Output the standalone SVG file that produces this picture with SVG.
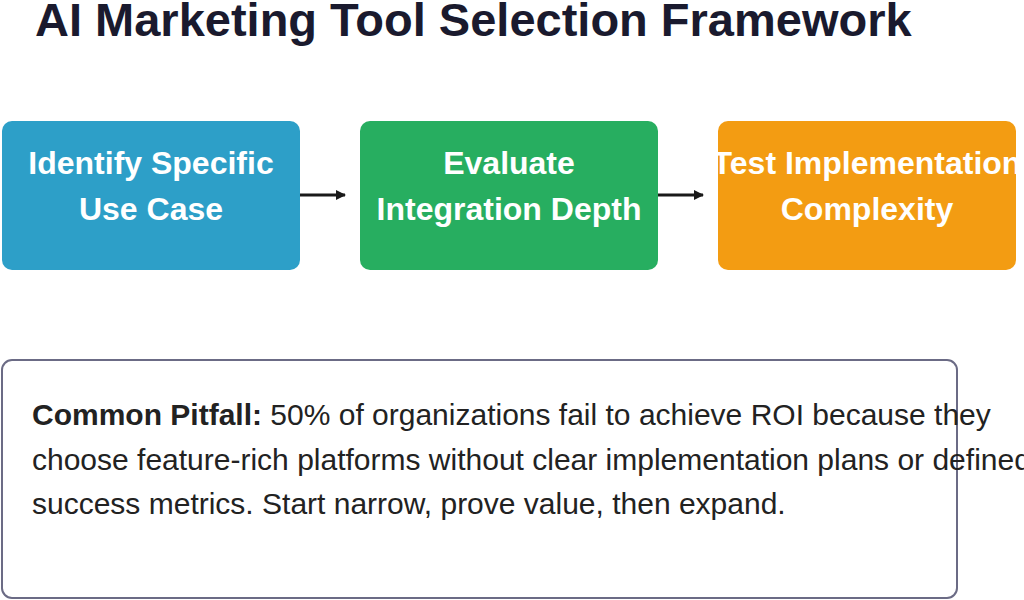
<svg xmlns="http://www.w3.org/2000/svg" width="1024" height="600" viewBox="0 0 1024 600">
<style>
.t{font-family:"Liberation Sans",Arial,sans-serif;font-weight:bold;font-size:32px;fill:#fff;text-anchor:middle}
.b{font-family:"Liberation Sans",Arial,sans-serif;font-size:30px;fill:#222}
</style>
<defs><marker id="ah" markerWidth="10" markerHeight="10" refX="9" refY="5" orient="auto" markerUnits="userSpaceOnUse"><path d="M0,0L10,5L0,10z" fill="#1a1a1a"/></marker></defs>
<rect width="1024" height="600" fill="#fff"/>
<text x="35" y="36" font-family="Liberation Sans,Arial,sans-serif" font-weight="bold" font-size="47" fill="#1a1a2e">AI Marketing Tool Selection Framework</text>
<g id="n1"><rect x="2" y="121" width="298" height="149" rx="10" fill="#2d9fc8"/><text class="t" x="151" y="174">Identify Specific</text><text class="t" x="151" y="220">Use Case</text></g>
<g id="n2"><rect x="360" y="121" width="298" height="149" rx="10" fill="#27ae60"/><text class="t" x="509" y="174">Evaluate</text><text class="t" x="509" y="220">Integration Depth</text></g>
<g id="n3"><rect x="718" y="121" width="298" height="149" rx="10" fill="#f39c12"/><text class="t" x="867" y="174">Test Implementation</text><text class="t" x="867" y="220">Complexity</text></g>
<g id="connectors" stroke="#1a1a1a" stroke-width="3"><line x1="300" y1="195" x2="345" y2="195" marker-end="url(#ah)"/><line x1="658" y1="195" x2="703" y2="195" marker-end="url(#ah)"/></g>
<g id="note"><rect x="2" y="360" width="955" height="238" rx="10" fill="#fff" stroke="#6b6b85" stroke-width="2"/>
<text class="b" x="32" y="425"><tspan font-weight="bold">Common Pitfall:</tspan> 50% of organizations fail to achieve ROI because they</text>
<text class="b" x="32" y="470">choose feature-rich platforms without clear implementation plans or defined</text>
<text class="b" x="32" y="514">success metrics. Start narrow, prove value, then expand.</text></g>
</svg>
